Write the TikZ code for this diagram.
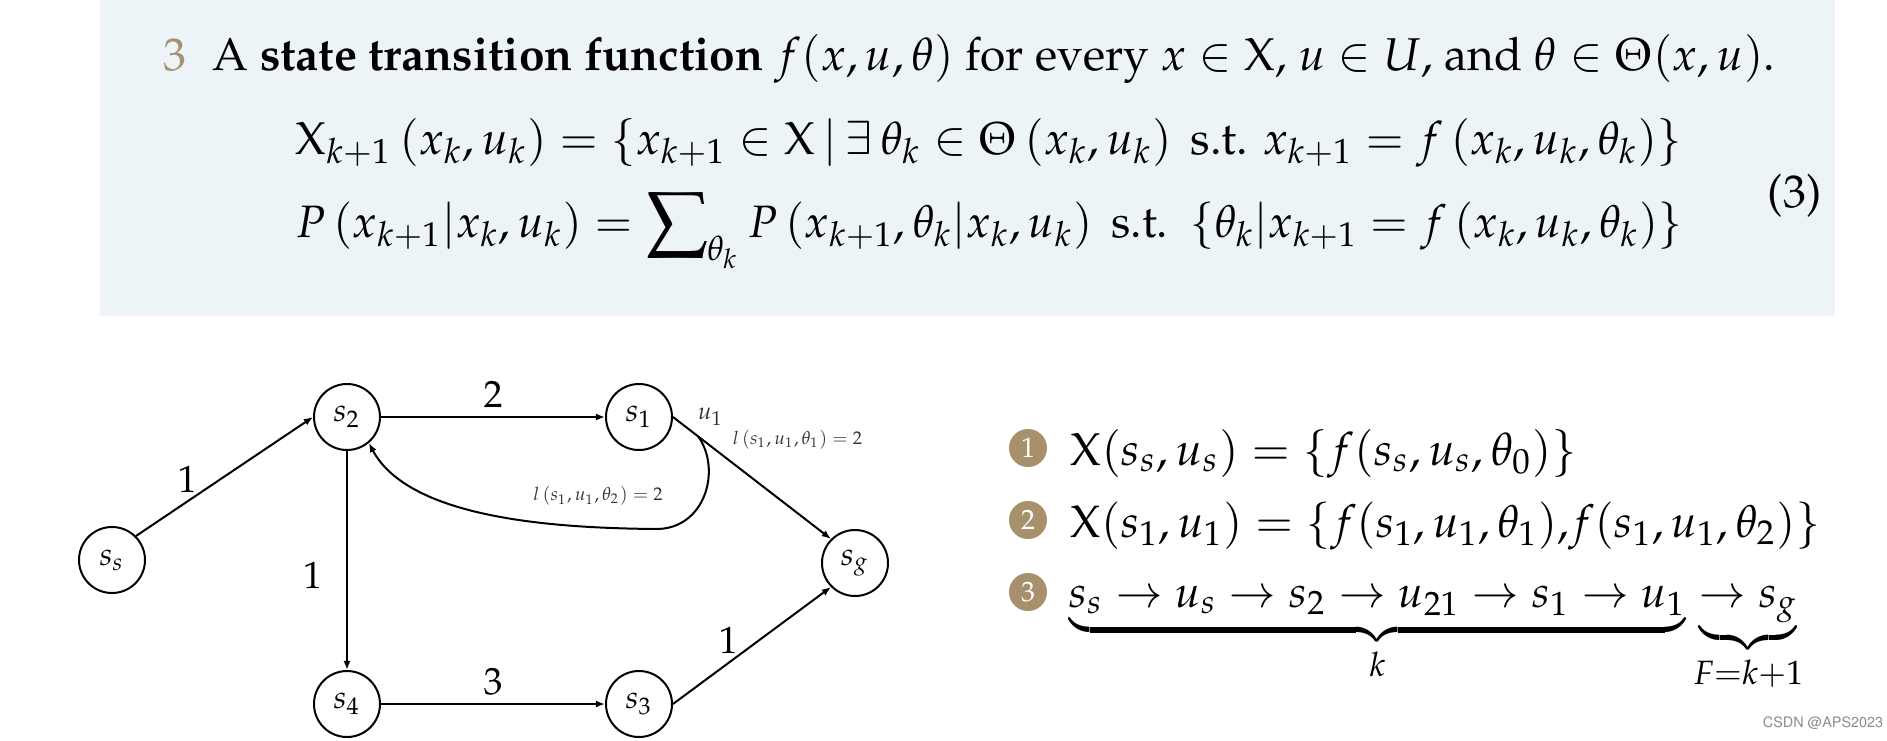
\documentclass[tikz,border=0pt]{standalone}
\usepackage[T1]{fontenc}
\usepackage{amsmath}
\usepackage{mathpazo}
\usepackage{xcolor}
\usepackage{tikz}
\usetikzlibrary{positioning, arrows.meta, calc}

\definecolor{boxblue}{RGB}{236,244,248}
\definecolor{gold}{RGB}{166,145,108}
\newcommand{\bodysize}{\fontsize{11.5}{14}\selectfont}
\newcommand{\bigsum}{\mathop{\vcenter{\hbox{\resizebox*{15.5pt}{16.5pt}{$\sum$}}}}\nolimits}

\begin{document}
\begin{tikzpicture}[
    x=0.25pt, y=-0.25pt,
    node distance=56pt,
    state/.style={
        draw,
        circle,
        line width=0.5pt,
        minimum size=16.5pt,
        inner sep=0pt,
        font=\fontsize{8}{9}\selectfont
    },
    cost/.style={font=\fontsize{9.5}{11}\selectfont, inner sep=2pt},
    note/.style={font=\fontsize{4.6}{5.5}\selectfont, text=black!80, inner sep=1pt},
    bullet/.style={
        circle,
        fill=gold,
        text=white,
        minimum size=9.5pt,
        inner sep=0pt,
        font=\fontsize{7}{8}\selectfont
    },
    line/.style={anchor=base west, inner sep=0pt, font=\bodysize},
    arrow/.style={-{Latex[length=2.3pt, width=1.8pt]}, line width=0.5pt}
]
\useasboundingbox (0,0) rectangle (1887,740);

% --- definicion ---
\fill[boxblue] (100,0) rectangle (1835,316);
\node[line, text=gold] (num) at (163,70) {3};
\node[line] (def) at (212,70) {A \textbf{state transition function} $f(x,u,\theta)$ for every $x \in \mathrm{X}$, $u \in U$, and $\theta \in \Theta(x,u)$.};
\node[line] (eqX) at (295,154) {$\mathrm{X}_{k+1}\left(x_k,u_k\right) = \left\{x_{k+1} \in \mathrm{X} \,\middle|\, \exists\, \theta_k \in \Theta\left(x_k,u_k\right) \text{ s.t. } x_{k+1} = f\left(x_k,u_k,\theta_k\right)\right\}$};
\node[line, font=\fontsize{11.35}{14}\selectfont] (eqP) at (295,237) {$P\left(x_{k+1}|x_k,u_k\right) = \bigsum_{\theta_k} P\left(x_{k+1},\theta_k|x_k,u_k\right) \text{ s.t. } \left\{\theta_k|x_{k+1} = f\left(x_k,u_k,\theta_k\right)\right\}$};
\node[line] (eqnum) at (1767,207) {(3)};

% --- grafo ---
\node[state] (ss) at (112,560) {$s_s$};
\node[state] (s2) at (347,417) {$s_2$};
\node[state, right=of s2] (s1) {$s_1$};
\node[state, below=54.75pt of s2] (s4) {$s_4$};
\node[state, right=of s4] (s3) {$s_3$};
\node[state] (sg) at (855,563) {$s_g$};

\draw[arrow] (ss.north east) -- node[cost, pos=0.29, above] {1} (s2.west);
\draw[arrow] (s2) -- node[cost, above] {2} (s1);
\draw[arrow] (s2) -- node[cost, pos=0.57, left=4pt] {1} (s4);
\draw[arrow] (s4) -- node[cost, above] {3} (s3);
\draw[arrow] (s3.east) -- node[cost, pos=0.35, above] {1} (sg.south west);
\draw[arrow] (s1.east) -- node[note, pos=0.33, above right=1pt] {$l\left(s_1,u_1,\theta_1\right) = 2$} (sg.north west);
\node[note, font=\fontsize{6}{7}\selectfont, right=5pt of s1.east] (u1) {$u_1$};

% --- vuelta a s2 ---
\coordinate (fork) at ($(s1.east)!0.16!(sg.north west)$);
\draw[arrow] (fork) .. controls (722,470) and (705,530) .. (655,529)
    .. controls (560,528) and (410,520) .. (s2.-50);
\node[note] (back) at (598,496) {$l\left(s_1,u_1,\theta_2\right) = 2$};

% --- lista ---
\node[bullet] (b1) at (1028,448) {1};
\node[bullet] (b2) at (1028,520) {2};
\node[bullet] (b3) at (1028,592) {3};
\node[line] (r1) at (1070,465) {$\mathrm{X}(s_s,u_s) = \{f(s_s,u_s,\theta_0)\}$};
\node[line, font=\fontsize{11.35}{14}\selectfont] (r2) at (1070,537) {$\mathrm{X}(s_1,u_1) = \{f(s_1,u_1,\theta_1){,}f(s_1,u_1,\theta_2)\}$};
\node[line, font=\fontsize{11.1}{14}\selectfont] (r3) at (1068,607) {$\underbrace{s_s \to u_s \to s_2 \to u_{21} \to s_1 \to u_1}_{k} \underbrace{\to s_g}_{F=k+1}$};

\node[font=\fontfamily{phv}\fontsize{3.6}{4}\selectfont, text=black!45, anchor=east, inner sep=0pt] (mark) at (1884,722) {CSDN @APS2023};

\end{tikzpicture}
\end{document}
